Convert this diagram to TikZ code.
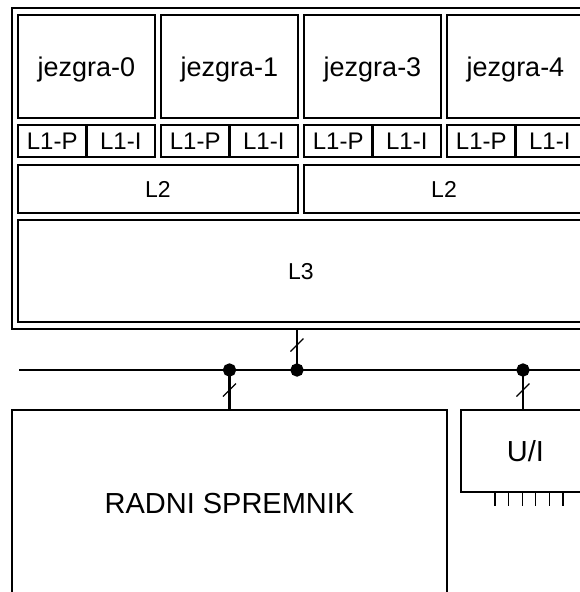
\documentclass[tikz,border=0pt]{standalone}
\usepackage{fontspec}
\setmainfont{Liberation Sans}
\usepackage{tikz}

\begin{document}
\begin{tikzpicture}[
      x=1pt, y=-1pt, line width=2.3pt,
      every node/.style={draw, rectangle, line width=2.3pt, inner sep=0pt, outer sep=0pt, text depth=0pt},
      jezgra/.style={minimum width=137pt, minimum height=103pt, font=\fontsize{27}{32}\selectfont},
      prvi/.style={minimum width=68.5pt, minimum height=32pt, font=\fontsize{24}{28}\selectfont},
      drugi/.style={minimum width=280pt, minimum height=48pt, font=\fontsize{23}{28}\selectfont},
      treci/.style={minimum width=566pt, minimum height=102pt, font=\fontsize{23}{28}\selectfont},
      tocka/.style={circle, fill, minimum size=11pt},
      kosa/.style={line width=1.1pt}
    ]
    \useasboundingbox (0,0) rectangle (580,592);
    \clip (0,0) rectangle (580,592);
    % Procesor
    \node[minimum width=578pt, minimum height=321pt] (cpu) at (301,168.5) {};
    \node[jezgra] (j0) at (86.5,66.5)  {jezgra-0};
    \node[jezgra] (j1) at (229.5,66.5) {jezgra-1};
    \node[jezgra] (j3) at (372.5,66.5) {jezgra-3};
    \node[jezgra] (j4) at (515.5,66.5) {jezgra-4};
    \node[prvi] (p0) at (52.25,141)  {L1-P};
    \node[prvi] (i0) at (120.75,141) {L1-I};
    \node[prvi] (p1) at (195.25,141) {L1-P};
    \node[prvi] (i1) at (263.75,141) {L1-I};
    \node[prvi] (p3) at (338.25,141) {L1-P};
    \node[prvi] (i3) at (406.75,141) {L1-I};
    \node[prvi] (p4) at (481.25,141) {L1-P};
    \node[prvi] (i4) at (549.75,141) {L1-I};
    \node[drugi] (l2a) at (158,189) {L2};
    \node[drugi] (l2b) at (444,189) {L2};
    \node[treci] (l3) at (301,271) {L3};
    % Sabirnica
    \coordinate (sabL) at (19,370);
    \coordinate (sabD) at (600,370);
    \draw (sabL) -- (sabD);
    \node[tocka] (t0) at (297,370) {};
    \node[tocka] (t1) at (229.5,370) {};
    \node[tocka] (t2) at (523,370) {};
    % Spremnik i U/I
    \node[minimum width=435pt, minimum height=186pt, font=\fontsize{29}{34}\selectfont] (ram) at (229.5,503) {RADNI SPREMNIK};
    \node[minimum width=129pt, minimum height=82pt, font=\fontsize{29}{34}\selectfont] (ui) at (525.5,451) {U/I};
    \draw (t0.center) -- (t0 |- cpu.south);
    \draw (t1.center) -- (t1 |- ram.north);
    \draw (t2.center) -- (t2 |- ui.north);
    \draw[kosa] (t0.center) ++(-6.5,-18.5) -- ++(13,-13);
    \draw[kosa] (t1.center) ++(-6.5,26.5) -- ++(13,-13);
    \draw[kosa] (t2.center) ++(-6.5,26.5) -- ++(13,-13);
    \foreach \k in {0,...,5}
      \draw[kosa] ([xshift=34pt+\k*13.6pt]ui.south west) -- ++(0,14);
  \end{tikzpicture}
\end{document}
